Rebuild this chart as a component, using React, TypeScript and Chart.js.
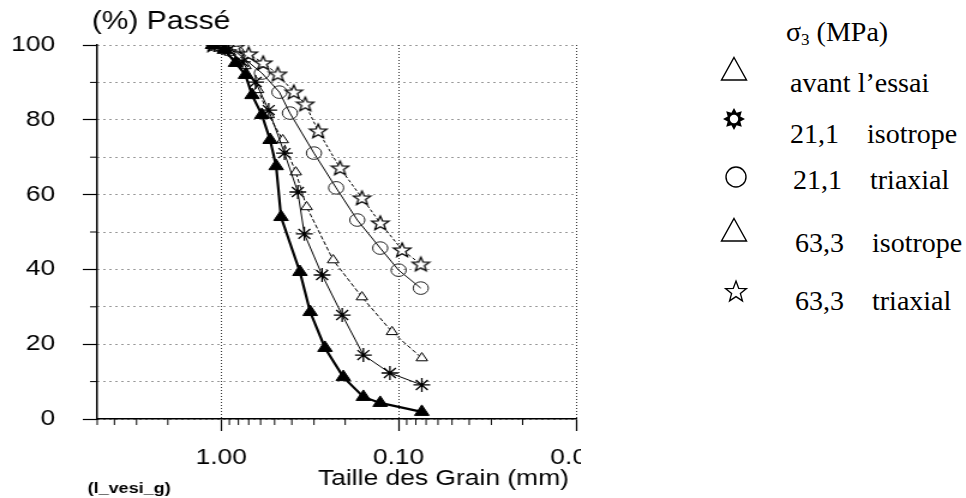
import React, { useEffect, useRef } from 'react';
import { Chart, registerables } from 'chart.js';

Chart.register(...registerables);

// ---- axis text ----
const yAxisTitle = '(%) Passé';
const xAxisTitle = 'Taille des Grain (mm)';
const fileTag = '(l_vesi_g)';

// ---- x axis (grain size, mm, log scale, coarse on the left) ----
const xMin = 0.01;
const xMax = 5;
const xTickValues = [
  5, 4, 3, 2, 1, 0.9, 0.8, 0.7, 0.6, 0.5, 0.4, 0.3, 0.2,
  0.1, 0.09, 0.08, 0.07, 0.06, 0.05, 0.04, 0.03, 0.02, 0.01,
];
const xMajorValues = [1, 0.1, 0.01];
const xMajorLabels = ['1.00', '0.10', '0.01'];

// ---- y axis (percent passing) ----
const yMin = 0;
const yMax = 100;
const yStep = 10;
const yLabelStep = 20;

// ---- series: grain size (mm) and percent passing ----
const avantSize = [1.12, 0.96, 0.83, 0.73, 0.67, 0.59, 0.53, 0.49, 0.46, 0.36, 0.315, 0.26, 0.205, 0.158, 0.127, 0.074];
const avantPass = [100, 98.7, 95.2, 92, 86.6, 81.3, 74.6, 67.6, 54, 39.3, 28.6, 19, 11.2, 5.9, 4.3, 1.9];

const iso21Size = [1.09, 0.91, 0.76, 0.64, 0.54, 0.44, 0.37, 0.34, 0.27, 0.208, 0.158, 0.112, 0.074];
const iso21Pass = [100, 98.7, 95.5, 90.1, 82.6, 71.1, 60.7, 49.5, 38.5, 27.8, 17.1, 12.3, 9.1];

const tri21Size = [1.08, 0.82, 0.59, 0.47, 0.41, 0.3, 0.225, 0.171, 0.127, 0.1, 0.075];
const tri21Pass = [100, 98, 92.5, 87.4, 81.8, 71.1, 61.8, 53.2, 45.7, 39.8, 35];

const iso63Size = [1.11, 0.89, 0.73, 0.62, 0.54, 0.45, 0.38, 0.33, 0.234, 0.161, 0.109, 0.074];
const iso63Pass = [100, 98, 94.4, 88, 81.3, 74.6, 66, 56.7, 42.5, 32.6, 23.3, 16.3];

const tri63Size = [1.11, 0.83, 0.7, 0.58, 0.48, 0.39, 0.336, 0.284, 0.214, 0.161, 0.127, 0.0955, 0.075];
const tri63Pass = [100, 99.5, 97.6, 95.2, 92.2, 87.4, 84.2, 77, 67.1, 59.1, 52.4, 45.2, 41.4];

// ---- legend text ----
const legendHeader = 'σ';
const legendHeaderSub = '3';
const legendHeaderUnit = ' (MPa)';
const legendLabels = [
  'avant l’essai',
  '21,1    isotrope',
  '21,1    triaxial',
  '63,3    isotrope',
  '63,3    triaxial',
];

// The plot is drawn on a narrower canvas and widened with a CSS scale.
const STRETCH = 1.2;
const CANVAS_W = 484;
const CANVAS_H = 498;

const sans = '"Liberation Sans", Arial, Helvetica, sans-serif';
const serif = '"Liberation Serif", "Times New Roman", Times, serif';

const zip = (xs: number[], ys: number[]) => xs.map((x, i) => ({ x, y: ys[i] }));
const near = (a: number, b: number) => Math.abs(a - b) < 1e-9;
const isMajor = (v: number) => xMajorValues.some((m) => near(m, v));

function makeOpenStar(): HTMLCanvasElement {
  const c = document.createElement('canvas');
  c.width = 18;
  c.height = 18;
  const g = c.getContext('2d')!;
  const cx = 9, cy = 9.5, ro = 7.5, ri = 3.2;
  g.beginPath();
  for (let i = 0; i < 10; i++) {
    const r = i % 2 === 0 ? ro : ri;
    const a = -Math.PI / 2 + (i * Math.PI) / 5;
    const px = cx + r * Math.cos(a);
    const py = cy + r * Math.sin(a);
    if (i === 0) g.moveTo(px, py); else g.lineTo(px, py);
  }
  g.closePath();
  g.lineWidth = 1.3;
  g.strokeStyle = '#000';
  g.fillStyle = '#fff';
  g.fill();
  g.stroke();
  return c;
}

const decorations = {
  id: 'decorations',
  afterDraw(chart: any) {
    const { ctx, chartArea, scales } = chart;
    const xs = scales.x;
    const ys = scales.y;
    ctx.save();
    ctx.strokeStyle = '#000';
    ctx.lineWidth = 1;
    ctx.setLineDash([]);
    // short minor tick marks
    ctx.beginPath();
    for (const v of xTickValues) {
      if (isMajor(v)) continue;
      const px = xs.getPixelForValue(v);
      ctx.moveTo(px, chartArea.bottom);
      ctx.lineTo(px, chartArea.bottom + 6);
    }
    for (let v = yMin; v <= yMax; v += yStep) {
      if (v % yLabelStep === 0) continue;
      const py = ys.getPixelForValue(v);
      ctx.moveTo(chartArea.left - 6, py);
      ctx.lineTo(chartArea.left, py);
    }
    ctx.stroke();

    ctx.fillStyle = '#000';
    ctx.textBaseline = 'middle';
    ctx.textAlign = 'left';
    ctx.font = `25px ${sans}`;
    ctx.fillText(yAxisTitle, 76.5, 22);
    ctx.font = `22px ${sans}`;
    ctx.fillText(xAxisTitle, 265, 479);
    ctx.font = `bold 15px ${sans}`;
    ctx.fillText(fileTag, 73, 489);
    ctx.restore();
  },
};

function TriangleIcon({ x, y }: { x: number; y: number }) {
  return (
    <svg style={{ position: 'absolute', left: x - 14, top: y - 14 }} width={28} height={28}>
      <polygon points="14,2.5 26.5,25 1.5,25" fill="none" stroke="#000" strokeWidth={1.4} />
    </svg>
  );
}

function CircleIcon({ x, y }: { x: number; y: number }) {
  return (
    <svg style={{ position: 'absolute', left: x - 14, top: y - 14 }} width={28} height={28}>
      <circle cx={14} cy={14} r={10} fill="none" stroke="#000" strokeWidth={1.4} />
    </svg>
  );
}

function SunIcon({ x, y }: { x: number; y: number }) {
  const pts: string[] = [];
  for (let i = 0; i < 16; i++) {
    const r = i % 2 === 0 ? 11 : 6.8;
    const a = -Math.PI / 2 + (i * Math.PI) / 8;
    pts.push(`${(14 + r * Math.cos(a)).toFixed(2)},${(14 + r * Math.sin(a)).toFixed(2)}`);
  }
  return (
    <svg style={{ position: 'absolute', left: x - 14, top: y - 14 }} width={28} height={28}>
      <polygon points={pts.join(' ')} fill="#000" />
      <circle cx={14} cy={14} r={4.2} fill="#fff" />
    </svg>
  );
}

function StarIcon({ x, y }: { x: number; y: number }) {
  const pts: string[] = [];
  for (let i = 0; i < 10; i++) {
    const r = i % 2 === 0 ? 11 : 4.6;
    const a = -Math.PI / 2 + (i * Math.PI) / 5;
    pts.push(`${(14 + r * Math.cos(a)).toFixed(2)},${(15 + r * Math.sin(a)).toFixed(2)}`);
  }
  return (
    <svg style={{ position: 'absolute', left: x - 14, top: y - 14 }} width={28} height={28}>
      <polygon points={pts.join(' ')} fill="none" stroke="#000" strokeWidth={1.3} />
    </svg>
  );
}

export default function App() {
  const canvasRef = useRef<HTMLCanvasElement | null>(null);

  useEffect(() => {
    const canvas = canvasRef.current;
    if (!canvas) return;
    document.body.style.margin = '0';
    const openStar = makeOpenStar();

    const chart = new Chart(canvas, {
      type: 'scatter',
      data: {
        datasets: [
          {
            label: legendLabels[0],
            data: zip(avantSize, avantPass),
            showLine: true,
            borderColor: '#000',
            borderWidth: 2.2,
            pointStyle: 'triangle',
            pointRadius: 7,
            pointBackgroundColor: '#000',
            pointBorderColor: '#000',
            pointBorderWidth: 1,
          },
          {
            label: legendLabels[1],
            data: zip(iso21Size, iso21Pass),
            showLine: true,
            borderColor: '#000',
            borderWidth: 1,
            pointStyle: 'star',
            pointRadius: 7,
            pointBorderColor: '#000',
            pointBorderWidth: 1.3,
          },
          {
            label: legendLabels[2],
            data: zip(tri21Size, tri21Pass),
            showLine: true,
            borderColor: '#000',
            borderWidth: 1,
            pointStyle: 'circle',
            pointRadius: 6.3,
            pointBackgroundColor: 'rgba(255,255,255,0)',
            pointBorderColor: '#222',
            pointBorderWidth: 1,
          },
          {
            label: legendLabels[3],
            data: zip(iso63Size, iso63Pass),
            showLine: true,
            borderColor: '#000',
            borderWidth: 1,
            borderDash: [4, 2],
            pointStyle: 'triangle',
            pointRadius: 5.5,
            pointBackgroundColor: '#fff',
            pointBorderColor: '#000',
            pointBorderWidth: 1,
          },
          {
            label: legendLabels[4],
            data: zip(tri63Size, tri63Pass),
            showLine: true,
            borderColor: '#000',
            borderWidth: 1,
            borderDash: [3, 2],
            pointStyle: openStar as any,
            pointRadius: 8,
          },
        ],
      },
      options: {
        responsive: false,
        animation: false,
        layout: {
          autoPadding: false,
          padding: { left: 0, right: 4, top: 45, bottom: 0 },
        },
        plugins: {
          legend: { display: false },
          tooltip: { enabled: false },
          title: { display: false },
        },
        scales: {
          x: {
            type: 'logarithmic',
            min: xMin,
            max: xMax,
            reverse: true,
            afterFit: (s: any) => {
              s.height = CANVAS_H - 419;
              s.paddingLeft = 0;
              s.paddingRight = 0;
            },
            afterBuildTicks: (s: any) => {
              s.ticks = xTickValues.map((v) => ({ value: v }));
            },
            border: { display: true, color: '#000', width: 1.5, dash: [1, 2] },
            grid: {
              color: (c: any) => (c.tick && isMajor(c.tick.value) ? '#333' : 'rgba(0,0,0,0)'),
              lineWidth: 1,
              tickLength: 12,
              tickColor: (c: any) => (c.tick && isMajor(c.tick.value) ? '#000' : 'rgba(0,0,0,0)'),
              tickWidth: 1.2,
              tickBorderDash: [],
            },
            ticks: {
              autoSkip: false,
              maxRotation: 0,
              minRotation: 0,
              padding: 14,
              color: '#000',
              font: { family: sans, size: 22 },
              callback: (v: any) => {
                const i = xMajorValues.findIndex((m) => near(m, Number(v)));
                return i >= 0 ? xMajorLabels[i] : '';
              },
            },
          },
          y: {
            type: 'linear',
            min: yMin,
            max: yMax,
            afterFit: (s: any) => {
              s.width = 81;
              s.paddingTop = 0;
              s.paddingBottom = 0;
            },
            border: { display: true, color: '#000', width: 1.5, dash: [1, 4] },
            grid: {
              color: '#333',
              lineWidth: 1,
              tickLength: 12,
              tickColor: (c: any) => (c.tick && c.tick.value % yLabelStep === 0 ? '#000' : 'rgba(0,0,0,0)'),
              tickWidth: 1.2,
              tickBorderDash: [],
            },
            ticks: {
              stepSize: yStep,
              padding: 23,
              color: '#000',
              font: { family: sans, size: 22 },
              callback: (v: any) => (Number(v) % yLabelStep === 0 ? String(v) : ''),
            },
          },
        },
      },
      plugins: [decorations],
    });

    return () => chart.destroy();
  }, []);

  const textStyle = (left: number, top: number): React.CSSProperties => ({
    position: 'absolute',
    left,
    top,
    fontFamily: serif,
    fontSize: 28,
    lineHeight: '28px',
    whiteSpace: 'pre',
    color: '#000',
  });

  return (
    <div style={{ position: 'absolute', left: 0, top: 0, width: 966, height: 498, background: '#fff', overflow: 'hidden' }}>
      <div
        style={{
          position: 'absolute',
          left: 0,
          top: 0,
          width: CANVAS_W,
          height: CANVAS_H,
          transform: `scaleX(${STRETCH})`,
          transformOrigin: '0 0',
        }}
      >
        <canvas ref={canvasRef} width={CANVAS_W} height={CANVAS_H} style={{ display: 'block' }} />
      </div>

      <div style={textStyle(786, 18)}>
        {legendHeader}
        <span style={{ fontSize: 17, verticalAlign: '-4px' }}>{legendHeaderSub}</span>
        {legendHeaderUnit}
      </div>

      <TriangleIcon x={734} y={69} />
      <div style={textStyle(790, 69)}>{legendLabels[0]}</div>

      <SunIcon x={734} y={119} />
      <div style={textStyle(790, 120)}>{legendLabels[1]}</div>

      <CircleIcon x={736} y={177} />
      <div style={textStyle(793, 166)}>{legendLabels[2]}</div>

      <TriangleIcon x={734} y={230} />
      <div style={textStyle(795, 229)}>{legendLabels[3]}</div>

      <StarIcon x={736} y={291} />
      <div style={textStyle(795, 287)}>{legendLabels[4]}</div>
    </div>
  );
}
